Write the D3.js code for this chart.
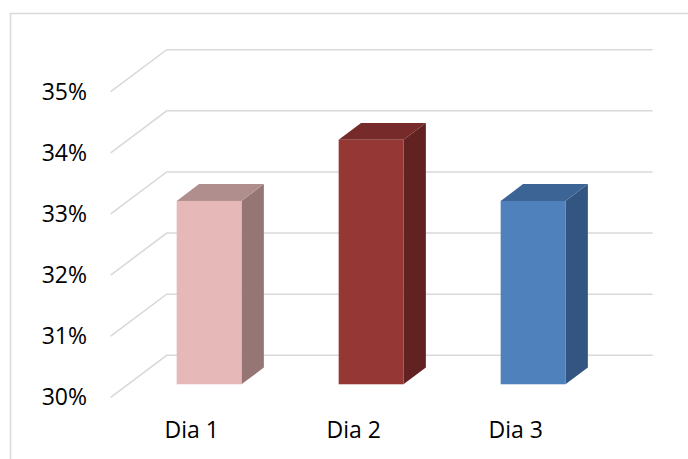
<!DOCTYPE html>
<html>
<head>
<meta charset="utf-8">
<script src="https://cdn.jsdelivr.net/npm/d3@7"></script>
<style>
  html, body { margin: 0; padding: 0; background: #fff; }
  svg { display: block; }
  text { font-family: "Open Sans", sans-serif; fill: #000; }
</style>
</head>
<body>
<svg id="chart" width="688" height="459"></svg>
<script>
// Chart data
const categories = ["Dia 1", "Dia 2", "Dia 3"];
const values = [0.33, 0.34, 0.33];
const tickValues = [0.30, 0.31, 0.32, 0.33, 0.34, 0.35];
const frontColors = ["#E6B8B7", "#953735", "#4F81BD"];
const topColors = ["#B08E8D", "#762B2A", "#3C6494"];
const sideColors = ["#957675", "#622221", "#335581"];

const svg = d3.select("#chart");
const W = 688, H = 459;

// Oblique projection of the 3D box: depth 0 = front, 1 = back wall
const depthX = 56, depthY = -42;
const barDepth0 = 0.31, barDepth1 = 0.71;

const y = d3.scaleLinear().domain([0.30, 0.35]).range([397.3, 91.7]);
const x = d3.scaleBand().domain(categories).range([110.7, 596.7])
  .paddingInner(0.6).paddingOuter(0.3);
const wallRight = 652.7;

// Outer frame
svg.append("path")
  .attr("d", `M10.5,${H} L10.5,13.5 L${W},13.5`)
  .attr("fill", "none").attr("stroke", "#D9D9D9").attr("stroke-width", 1.5);

// Gridlines: side-wall diagonal then back wall horizontal
const grid = svg.append("g");
tickValues.forEach(t => {
  const x0 = x.range()[0], y0 = y(t);
  grid.append("path")
    .attr("d", `M${x0},${y0} L${x0 + depthX},${y0 + depthY} L${wallRight},${y0 + depthY}`)
    .attr("fill", "none").attr("stroke", "#D9D9D9").attr("stroke-width", 1.6);
});

// Y tick labels
const fmt = d3.format(".0%");
svg.append("g").selectAll("text").data(tickValues).join("text")
  .attr("x", 87).attr("y", d => y(d)).attr("dy", "0.35em")
  .attr("text-anchor", "end").attr("font-size", 23)
  .text(d => fmt(d));

// 3D bars
const bars = svg.append("g");
const ddx = depthX * (barDepth1 - barDepth0), ddy = depthY * (barDepth1 - barDepth0);
categories.forEach((c, i) => {
  const xl = x(c) + depthX * barDepth0;
  const xr = xl + x.bandwidth();
  const yt = y(values[i]) + depthY * barDepth0;
  const yb = y(0.30) + depthY * barDepth0;
  const g = bars.append("g");
  // right side face
  g.append("path")
    .attr("d", `M${xr},${yt} L${xr + ddx},${yt + ddy} L${xr + ddx},${yb + ddy} L${xr},${yb} Z`)
    .attr("fill", sideColors[i]);
  // top face
  g.append("path")
    .attr("d", `M${xl},${yt} L${xl + ddx},${yt + ddy} L${xr + ddx},${yt + ddy} L${xr},${yt} Z`)
    .attr("fill", topColors[i]);
  // front face
  g.append("rect")
    .attr("x", xl).attr("y", yt).attr("width", x.bandwidth()).attr("height", yb - yt)
    .attr("fill", frontColors[i]);
});

// Category labels
svg.append("g").selectAll("text").data(categories).join("text")
  .attr("x", d => x(d) + x.bandwidth() / 2).attr("y", 438)
  .attr("text-anchor", "middle").attr("font-size", 23)
  .text(d => d);
</script>
</body>
</html>
